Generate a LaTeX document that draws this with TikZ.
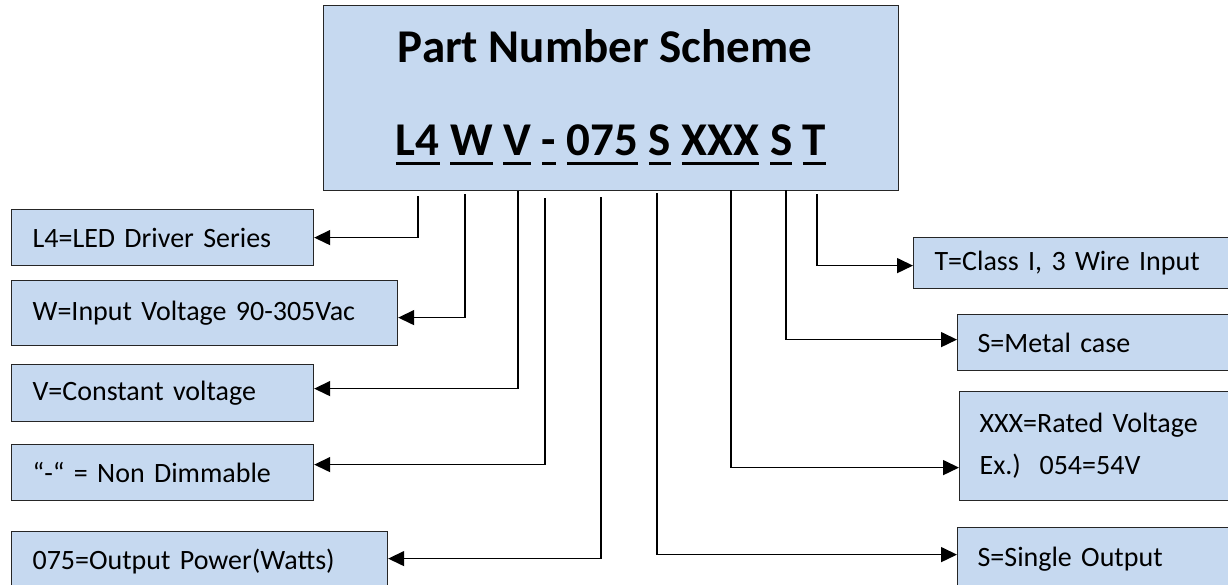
\documentclass[tikz,border=0pt]{standalone}
\usepackage{fontspec}
\setmainfont{Carlito}
\usetikzlibrary{arrows.meta}
\definecolor{boxfill}{HTML}{C6D9F0}
\definecolor{boxline}{HTML}{262626}
\newcommand\pnul[1]{\setbox0\hbox{#1}\rlap{\rule[-10pt]{\wd0}{3.2pt}}\box0\relax}
\begin{document}
\begin{tikzpicture}[x=1pt,y=-1pt,
  box/.style={draw=boxline,fill=boxfill,line width=1.2pt,anchor=north west,
    inner ysep=0pt,align=left,font=\fontsize{28}{42}\selectfont},
  conn/.style={line width=1.5pt,-{Triangle[length=16pt,width=15pt]}}]
\useasboundingbox (0,0) rectangle (1228,584);
\clip (0,0) rectangle (1228,584);
% title box
\node[draw=boxline,fill=boxfill,line width=1.2pt,anchor=north west,inner sep=0pt,
  minimum width=575pt,minimum height=185pt] (head) at (323,5) {};
\node[anchor=base,inner sep=0pt,font=\fontsize{47}{50}\selectfont\bfseries] (title) at (605,62) {Part Number Scheme};
\node[anchor=base,inner sep=0pt,font=\fontsize{47}{50}\selectfont\bfseries] (code) at (611,155)
  {\pnul{L4} \pnul{W} \pnul{V} \pnul{-} \pnul{075} \pnul{S} \pnul{XXX} \pnul{S} \pnul{T}};
% left boxes
\node[box,minimum width=302pt,minimum height=56pt,text width=260pt,inner xsep=21pt] (b1) at (11,209) {L4=LED Driver Series};
\node[box,minimum width=386pt,minimum height=65pt,text width=344pt,inner xsep=21pt] (b2) at (11,280) {W=Input Voltage 90-305Vac};
\node[box,minimum width=302pt,minimum height=57pt,text width=260pt,inner xsep=21pt] (b3) at (11,364) {V=Constant voltage};
\node[box,minimum width=302pt,minimum height=56pt,text width=260pt,inner xsep=21pt] (b4) at (11,444) {“-“ = Non Dimmable};
\node[box,minimum width=376pt,minimum height=59pt,text width=334pt,inner xsep=21pt] (b5) at (11,531) {075=Output Power(Watts)};
% right boxes
\node[box,minimum width=327pt,minimum height=51pt,text width=285pt,inner xsep=21pt] (t1) at (913,237) {T=Class I, 3 Wire Input};
\node[box,minimum width=283pt,minimum height=56pt,text width=243pt,inner xsep=20pt] (t2) at (957,314) {S=Metal case};
\node[box,minimum width=281pt,minimum height=109pt,text width=241pt,inner xsep=20pt] (t3) at (959,391) {XXX=Rated Voltage\\Ex.)\ \ 054=54V};
\node[box,minimum width=283pt,minimum height=63pt,text width=243pt,inner xsep=20pt] (t4) at (957,527) {S=Single Output};
% connector start points
\coordinate (c1) at (418,196);
\coordinate (c2) at (465,194);
\coordinate (c3) at (518,191);
\coordinate (c4) at (545,198);
\coordinate (c5) at (601,197);
\coordinate (c6) at (657,193);
\coordinate (c7) at (731,190);
\coordinate (c8) at (786,190);
\coordinate (c9) at (817,194);
\draw[conn] (c1) |- (b1.east);
\draw[conn] (c2) |- ([yshift=-4.5pt]b2.east);
\draw[conn] (c3) |- ([yshift=4.5pt]b3.east);
\draw[conn] (c4) |- ([yshift=8pt]b4.east);
\draw[conn] (c5) |- ([yshift=2.5pt]b5.east);
\draw[conn] (c9) |- ([yshift=-2.5pt]t1.west);
\draw[conn] (c8) |- ([yshift=3pt]t2.west);
\draw[conn] (c7) |- ([yshift=-21.5pt]t3.west);
\draw[conn] (c6) |- ([yshift=4.5pt]t4.west);
\end{tikzpicture}
\end{document}
